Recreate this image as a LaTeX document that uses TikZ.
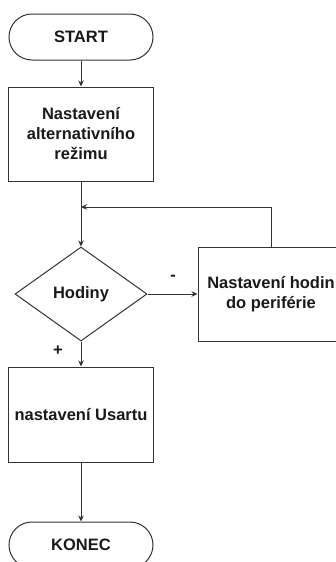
\documentclass[tikz,border=0pt]{standalone}
\usepackage{fontspec}
\setmainfont{Liberation Sans}
\usetikzlibrary{shapes.geometric,arrows.meta}
\begin{document}
\begin{tikzpicture}[x=1pt,y=-1pt,
  every node/.style={font=\bfseries\fontsize{16.5}{20}\selectfont, text=black!90},
  line/.style={draw=black!80, line width=1pt},
  arr/.style={line, -{Stealth[length=6pt,width=5.5pt]}},
  term/.style={line, rectangle, rounded corners=23pt, minimum width=144pt, minimum height=46pt, inner sep=0pt},
  proc/.style={line, rectangle, minimum width=145pt, minimum height=94pt, inner sep=0pt, align=center},
  dec/.style={line, diamond, aspect=1.4, minimum width=132pt, minimum height=94pt, inner sep=0pt},
  lbl/.style={inner sep=0pt}]
\useasboundingbox (0,0) rectangle (336,562);
\clip (0,0) rectangle (336,562);
\node[term] (start) at (81,37) {START};
\node[proc] (set) at (81,134) {Nastavení\\alternativního\\režimu};
\node[dec] (hod) at (81,294) {Hodiny};
\node[proc, minimum width=146pt] (per) at (271,294) {Nastavení hodin\\do periférie};
\node[proc, minimum height=95pt] (usart) at (81,414.5) {nastavení Usartu};
\node[term] (konec) at (81,545) {KONEC};
\node[lbl] (minus) at (173,278) {-};
\node[lbl] (plus) at (58,351) {+};
\coordinate (fb) at (81,207);
\draw[arr] (start) -- (set);
\draw[arr] (set) -- (hod);
\draw[arr] (hod) -- (per);
\draw[arr] (per.north) |- (fb);
\draw[arr] (hod) -- (usart);
\draw[arr] (usart) -- (konec);
\end{tikzpicture}
\end{document}
